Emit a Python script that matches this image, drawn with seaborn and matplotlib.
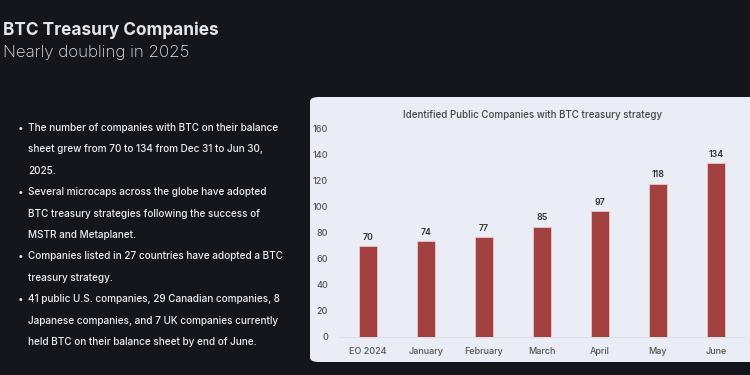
import matplotlib
matplotlib.use("Agg")
import matplotlib.pyplot as plt
import seaborn as sns
import pandas as pd
from matplotlib.patches import FancyBboxPatch

categories = ["EO 2024", "January", "February", "March", "April", "May", "June"]
companies = [70, 74, 77, 85, 97, 118, 134]
y_ticks = [0, 20, 40, 60, 80, 100, 120, 140, 160]

title = "BTC Treasury Companies"
subtitle = "Nearly doubling in 2025"
chart_title = "Identified Public Companies with BTC treasury strategy"
bullets = [
    ["The number of companies with BTC on their balance",
     "sheet grew from 70 to 134 from Dec 31 to Jun 30,",
     "2025."],
    ["Several microcaps across the globe have adopted",
     "BTC treasury strategies following the success of",
     "MSTR and Metaplanet."],
    ["Companies listed in 27 countries have adopted a BTC",
     "treasury strategy."],
    ["41 public U.S. companies, 29 Canadian companies, 8",
     "Japanese companies, and 7 UK companies currently",
     "held BTC on their balance sheet by end of June."],
]

df = pd.DataFrame({"month": categories, "companies": companies})

sns.set_theme(style="white")
plt.rcParams["font.family"] = ["Inter", "DejaVu Sans"]

W, H = 750, 375
fig = plt.figure(figsize=(7.5, 3.75), dpi=100)
fig.patch.set_facecolor("#15161b")

def fx(px):
    return px / W

def fy(py):
    return 1 - py / H

# panel
panel = FancyBboxPatch((fx(310), fy(362)), fx(460), (362 - 97) / H,
                       boxstyle="round,pad=0,rounding_size=0.012",
                       transform=fig.transFigure, facecolor="#eaedf5",
                       edgecolor="none", zorder=-5)
fig.patches.append(panel)

# headings
fig.text(fx(3), fy(30), title, color="#e4e4ec", fontsize=12.4,
         fontweight="bold", va="center", ha="left")
fig.text(fx(3), fy(52), subtitle, color="#e4e4ec", fontsize=12.2,
         fontweight="light", va="center", ha="left")

# bullets
y = 128
step = 21.4
for para in bullets:
    fig.text(fx(18), fy(y), "\u2022", color="#e8e8ee", fontsize=7.3,
             va="center", ha="left")
    for line in para:
        fig.text(fx(28), fy(y), line, color="#ececf2", fontsize=7.2,
                 fontweight="medium", va="center", ha="left")
        y += step

# chart
ax = fig.add_axes([fx(339), fy(337), fx(406), 208 / H])
ax.set_facecolor("none")
ax.set_zorder(2)
sns.barplot(data=df, x="month", y="companies", color="#a34141",
            width=0.31, ax=ax, saturation=1, zorder=3,
            edgecolor="#e8c9c9", linewidth=0.6)
ax.set_ylim(0, 160)
ax.set_xlim(-0.5, len(categories) - 0.5)
ax.set_yticks(y_ticks)
ax.set_yticklabels([str(t) for t in y_ticks])
ax.set_xlabel("")
ax.set_ylabel("")
ax.tick_params(axis="y", length=0, pad=8, labelsize=6.5, labelcolor="#555555")
ax.tick_params(axis="x", length=0, pad=7, labelsize=6.5, labelcolor="#555555")
for lbl in ax.get_xticklabels() + ax.get_yticklabels():
    lbl.set_fontweight("medium")
for s in ["top", "right", "left"]:
    ax.spines[s].set_visible(False)
ax.spines["bottom"].set_color("#dcdfe6")
ax.spines["bottom"].set_linewidth(0.8)
for c in ax.containers:
    ax.bar_label(c, labels=[str(v) for v in companies], padding=3,
                 fontsize=6.3, color="#333333", fontweight="semibold")

fig.text(fx(533), fy(115), chart_title, color="#444444", fontsize=7.0,
         fontweight="medium", va="center", ha="center")

fig.savefig("out.png", dpi=100, facecolor=fig.get_facecolor())
